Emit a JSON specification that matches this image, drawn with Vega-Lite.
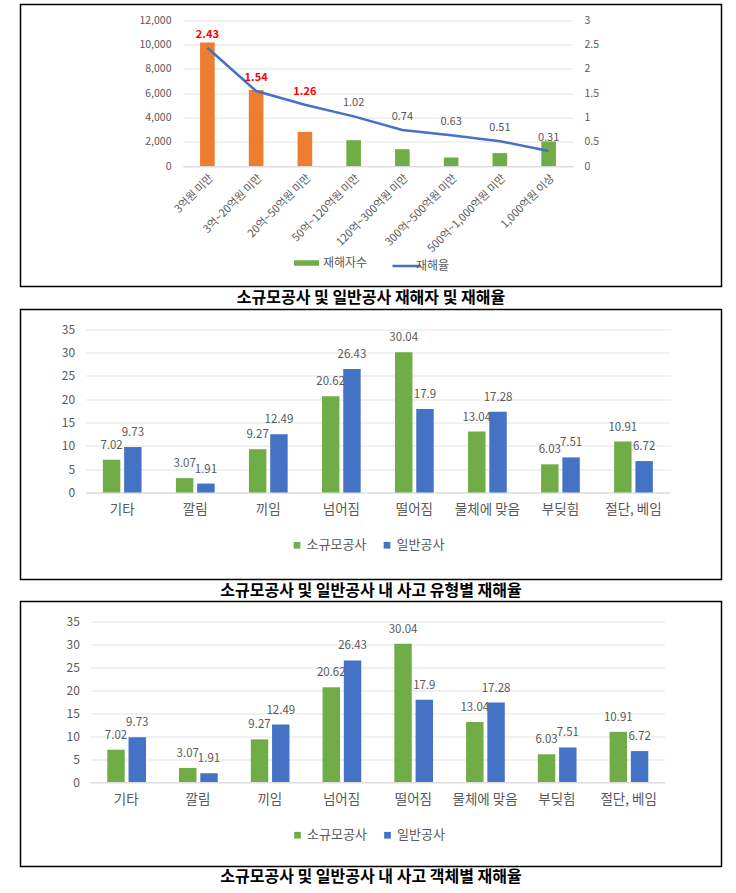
{
  "$schema": "https://vega.github.io/schema/vega-lite/v6.json",
  "background": "white",
  "padding": {"left": 19.5, "top": 3.5, "right": 0, "bottom": 0},
  "bounds": "flush",
  "spacing": 0,
  "config": {
    "font": "Noto Sans CJK KR",
    "view": {"stroke": "#000000", "strokeWidth": 1.5},
    "axis": {"labelFont": "Noto Sans CJK KR", "labelColor": "#595959", "title": null, "ticks": false},
    "legend": {"labelFont": "Noto Sans CJK KR", "labelColor": "#595959", "padding": 0, "title": null}
  },
  "resolve": {"scale": {"color": "independent", "stroke": "independent"}, "legend": {"color": "independent", "stroke": "independent"}},
  "vconcat": [
    {
      "width": 701,
      "height": 282,
      "data": {"values": [
        {"규모": "3억원 미만", "구분": "소규모공사", "재해자수": 10150, "재해율": 2.43},
        {"규모": "3억~20억원 미만", "구분": "소규모공사", "재해자수": 6250, "재해율": 1.54},
        {"규모": "20억~50억원 미만", "구분": "소규모공사", "재해자수": 2800, "재해율": 1.26},
        {"규모": "50억~120억원 미만", "구분": "일반공사", "재해자수": 2120, "재해율": 1.02},
        {"규모": "120억~300억원 미만", "구분": "일반공사", "재해자수": 1380, "재해율": 0.74},
        {"규모": "300억~500억원 미만", "구분": "일반공사", "재해자수": 700, "재해율": 0.63},
        {"규모": "500억~1,000억원 미만", "구분": "일반공사", "재해자수": 1060, "재해율": 0.51},
        {"규모": "1,000억원 이상", "구분": "일반공사", "재해자수": 2020, "재해율": 0.31}
      ]},
      "layer": [
        {
          "mark": {"type": "bar"},
          "encoding": {
            "x": {"field": "규모", "type": "nominal", "sort": null,
              "scale": {"range": [162.5, 552.5], "paddingInner": 0.7, "paddingOuter": 0.35},
              "axis": {"offset": -120.5, "labelAngle": -45, "labelFontSize": 11, "labelPadding": 6, "domainColor": "#D9D9D9", "grid": false}},
            "y": {"field": "재해자수", "type": "quantitative",
              "scale": {"domain": [0, 12000], "range": [161.5, 15.5], "nice": false, "zero": true},
              "axis": {"orient": "left", "offset": -162.5, "values": [0, 2000, 4000, 6000, 8000, 10000, 12000], "tickCount": 12, "format": ",d", "labelFontSize": 10.5, "labelPadding": 12, "domain": false, "grid": true, "gridColor": "#E3E3E3"}},
            "color": {"field": "구분", "type": "nominal",
              "scale": {"domain": ["일반공사", "소규모공사"], "range": ["#70AD47", "#ED7D31"]},
              "legend": {"values": ["일반공사"], "labelExpr": "'재해자수'", "orient": "none", "legendX": 273.5, "legendY": 246, "symbolType": "M-1,-0.22H1V0.22H-1Z", "symbolSize": 625, "symbolStrokeWidth": 0, "labelFontSize": 12, "labelOffset": 4}}
          }
        },
        {
          "layer": [
            {
              "mark": {"type": "line", "strokeWidth": 2.5},
              "encoding": {
                "x": {"field": "규모", "type": "nominal", "sort": null},
                "y": {"field": "재해율", "type": "quantitative",
                  "scale": {"domain": [0, 3], "range": [161.5, 15.5], "nice": false},
                  "axis": {"orient": "right", "offset": -148.5, "values": [0, 0.5, 1, 1.5, 2, 2.5, 3], "tickCount": 12, "format": "~g", "labelFontSize": 10.5, "labelPadding": 11, "domain": false, "grid": false}},
                "stroke": {"datum": "재해율", "scale": {"range": ["#4472C4"]},
                  "legend": {"orient": "none", "legendX": 370.5, "legendY": 246, "symbolType": "stroke", "symbolSize": 784, "symbolStrokeWidth": 2.5, "labelFontSize": 12, "labelOffset": -6}}
              }
            },
            {
              "transform": [{"filter": "datum['구분'] === '소규모공사'"}],
              "mark": {"type": "text", "dy": -13, "color": "#FF0000", "fontWeight": "bold", "fontSize": 11},
              "encoding": {
                "x": {"field": "규모", "type": "nominal", "sort": null},
                "y": {"field": "재해율", "type": "quantitative"},
                "text": {"field": "재해율", "type": "quantitative", "format": ".2f"}
              }
            },
            {
              "transform": [{"filter": "datum['구분'] === '일반공사'"}],
              "mark": {"type": "text", "dy": -13, "color": "#595959", "fontSize": 11},
              "encoding": {
                "x": {"field": "규모", "type": "nominal", "sort": null},
                "y": {"field": "재해율", "type": "quantitative"},
                "text": {"field": "재해율", "type": "quantitative", "format": ".2f"}
              }
            }
          ]
        }
      ],
      "resolve": {"scale": {"y": "independent"}}
    },
    {
      "width": 701,
      "height": 23,
      "data": {"values": [{"제목": "소규모공사 및 일반공사 재해자 및 재해율"}]},
      "mark": {"type": "text", "fontSize": 16, "fontWeight": "bold", "color": "#000000"},
      "encoding": {"text": {"field": "제목", "type": "nominal"}}
    },
    {
      "width": 701,
      "height": 270,
      "data": {"values": [
        {"유형": "기타", "구분": "소규모공사", "재해율": 7.02},
        {"유형": "기타", "구분": "일반공사", "재해율": 9.73},
        {"유형": "깔림", "구분": "소규모공사", "재해율": 3.07},
        {"유형": "깔림", "구분": "일반공사", "재해율": 1.91},
        {"유형": "끼임", "구분": "소규모공사", "재해율": 9.27},
        {"유형": "끼임", "구분": "일반공사", "재해율": 12.49},
        {"유형": "넘어짐", "구분": "소규모공사", "재해율": 20.62},
        {"유형": "넘어짐", "구분": "일반공사", "재해율": 26.43},
        {"유형": "떨어짐", "구분": "소규모공사", "재해율": 30.04},
        {"유형": "떨어짐", "구분": "일반공사", "재해율": 17.9},
        {"유형": "물체에 맞음", "구분": "소규모공사", "재해율": 13.04},
        {"유형": "물체에 맞음", "구분": "일반공사", "재해율": 17.28},
        {"유형": "부딪힘", "구분": "소규모공사", "재해율": 6.03},
        {"유형": "부딪힘", "구분": "일반공사", "재해율": 7.51},
        {"유형": "절단, 베임", "구분": "소규모공사", "재해율": 10.91},
        {"유형": "절단, 베임", "구분": "일반공사", "재해율": 6.72}
      ]},
      "layer": [
        {
          "mark": {"type": "bar"},
          "encoding": {
            "x": {"field": "유형", "type": "nominal", "sort": null,
              "scale": {"range": [65.2, 649.5], "paddingInner": 0.47, "paddingOuter": 0.235},
              "axis": {"offset": -87, "labelAngle": 0, "labelFontSize": 13.5, "labelPadding": 10, "domainColor": "#D9D9D9", "grid": false}},
            "xOffset": {"field": "구분", "type": "nominal", "sort": ["소규모공사", "일반공사"], "scale": {"paddingInner": 0.18}},
            "y": {"field": "재해율", "type": "quantitative",
              "scale": {"domain": [0, 35], "range": [183, 19.5], "nice": false},
              "axis": {"offset": -65.2, "values": [0, 5, 10, 15, 20, 25, 30, 35], "tickCount": 12, "labelFontSize": 12, "labelPadding": 11, "domain": false, "grid": true, "gridColor": "#E3E3E3"}},
            "color": {"field": "구분", "type": "nominal",
              "scale": {"domain": ["소규모공사", "일반공사"], "range": ["#70AD47", "#4472C4"]},
              "legend": {"orient": "none", "legendX": 270, "legendY": 229, "direction": "horizontal", "symbolType": "square", "symbolSize": 45, "symbolStrokeWidth": 0, "labelFontSize": 13, "labelOffset": 3, "columnPadding": 14}}
          }
        },
        {
          "mark": {"type": "text", "dy": -14, "color": "#595959", "fontSize": 11.5},
          "encoding": {
            "x": {"field": "유형", "type": "nominal", "sort": null},
            "xOffset": {"field": "구분", "type": "nominal", "sort": ["소규모공사", "일반공사"]},
            "y": {"field": "재해율", "type": "quantitative"},
            "text": {"field": "재해율", "type": "quantitative", "format": "~g"}
          }
        }
      ]
    },
    {
      "width": 701,
      "height": 22,
      "data": {"values": [{"제목": "소규모공사 및 일반공사 내 사고 유형별 재해율"}]},
      "mark": {"type": "text", "fontSize": 16, "fontWeight": "bold", "color": "#000000"},
      "encoding": {"text": {"field": "제목", "type": "nominal"}}
    },
    {
      "width": 701,
      "height": 265,
      "data": {"values": [
        {"객체": "기타", "구분": "소규모공사", "재해율": 7.02},
        {"객체": "기타", "구분": "일반공사", "재해율": 9.73},
        {"객체": "깔림", "구분": "소규모공사", "재해율": 3.07},
        {"객체": "깔림", "구분": "일반공사", "재해율": 1.91},
        {"객체": "끼임", "구분": "소규모공사", "재해율": 9.27},
        {"객체": "끼임", "구분": "일반공사", "재해율": 12.49},
        {"객체": "넘어짐", "구분": "소규모공사", "재해율": 20.62},
        {"객체": "넘어짐", "구분": "일반공사", "재해율": 26.43},
        {"객체": "떨어짐", "구분": "소규모공사", "재해율": 30.04},
        {"객체": "떨어짐", "구분": "일반공사", "재해율": 17.9},
        {"객체": "물체에 맞음", "구분": "소규모공사", "재해율": 13.04},
        {"객체": "물체에 맞음", "구분": "일반공사", "재해율": 17.28},
        {"객체": "부딪힘", "구분": "소규모공사", "재해율": 6.03},
        {"객체": "부딪힘", "구분": "일반공사", "재해율": 7.51},
        {"객체": "절단, 베임", "구분": "소규모공사", "재해율": 10.91},
        {"객체": "절단, 베임", "구분": "일반공사", "재해율": 6.72}
      ]},
      "layer": [
        {
          "mark": {"type": "bar"},
          "encoding": {
            "x": {"field": "객체", "type": "nominal", "sort": null,
              "scale": {"range": [69.9, 644], "paddingInner": 0.47, "paddingOuter": 0.235},
              "axis": {"offset": -84.3, "labelAngle": 0, "labelFontSize": 13.5, "labelPadding": 10, "domainColor": "#D9D9D9", "grid": false}},
            "xOffset": {"field": "구분", "type": "nominal", "sort": ["소규모공사", "일반공사"], "scale": {"paddingInner": 0.18}},
            "y": {"field": "재해율", "type": "quantitative",
              "scale": {"domain": [0, 35], "range": [180.5, 19.5], "nice": false},
              "axis": {"offset": -69.9, "values": [0, 5, 10, 15, 20, 25, 30, 35], "tickCount": 12, "labelFontSize": 12, "labelPadding": 11, "domain": false, "grid": true, "gridColor": "#E3E3E3"}},
            "color": {"field": "구분", "type": "nominal",
              "scale": {"domain": ["소규모공사", "일반공사"], "range": ["#70AD47", "#4472C4"]},
              "legend": {"orient": "none", "legendX": 270.5, "legendY": 227, "direction": "horizontal", "symbolType": "square", "symbolSize": 45, "symbolStrokeWidth": 0, "labelFontSize": 13, "labelOffset": 3, "columnPadding": 14}}
          }
        },
        {
          "mark": {"type": "text", "dy": -14, "color": "#595959", "fontSize": 11.5},
          "encoding": {
            "x": {"field": "객체", "type": "nominal", "sort": null},
            "xOffset": {"field": "구분", "type": "nominal", "sort": ["소규모공사", "일반공사"]},
            "y": {"field": "재해율", "type": "quantitative"},
            "text": {"field": "재해율", "type": "quantitative", "format": "~g"}
          }
        }
      ]
    },
    {
      "width": 701,
      "height": 21,
      "data": {"values": [{"제목": "소규모공사 및 일반공사 내 사고 객체별 재해율"}]},
      "mark": {"type": "text", "fontSize": 16, "fontWeight": "bold", "color": "#000000"},
      "encoding": {"text": {"field": "제목", "type": "nominal"}}
    }
  ]
}
